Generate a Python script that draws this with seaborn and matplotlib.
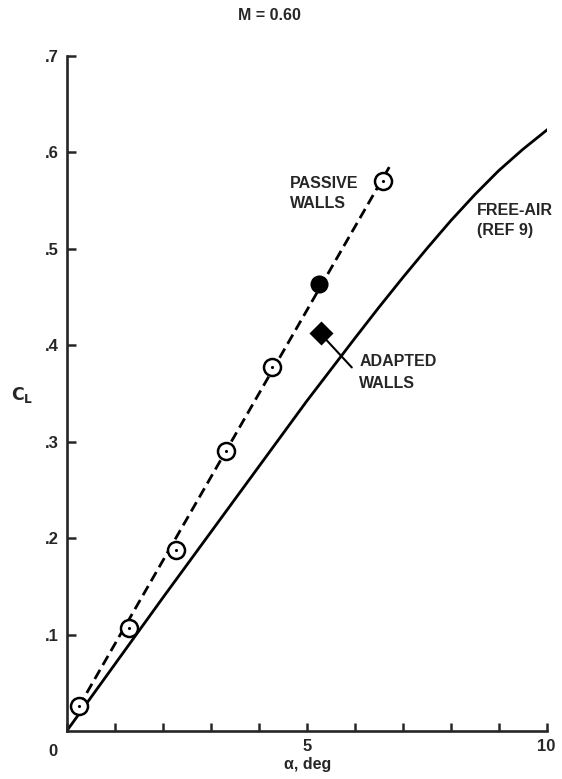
import numpy as np
import pandas as pd
import matplotlib
matplotlib.use("Agg")
import matplotlib.pyplot as plt
import seaborn as sns

# Free-air lift curve (REF 9)
free_alpha = [0.0, 1.0, 2.0, 3.0, 4.0, 5.0, 6.0, 6.5, 7.0, 7.5, 8.0, 8.5, 9.0, 9.5, 10.05]
free_cl = [0.0, 0.069, 0.138, 0.206, 0.274, 0.342, 0.407, 0.439, 0.470, 0.500, 0.529,
           0.556, 0.581, 0.603, 0.625]

# Passive-wall measurements
passive_alpha = [0.26, 1.30, 2.27, 3.32, 4.28, 6.58]
passive_cl = [0.026, 0.1065, 0.188, 0.290, 0.377, 0.570]

# Passive-wall fairing (dashed)
fair_alpha = [0.25, 6.77]
fair_cl = [0.025, 0.589]

# Solid-circle point and adapted-wall point
solid_alpha = [5.26]
solid_cl = [0.463]
adapted_alpha = [5.29]
adapted_cl = [0.4125]

x_ticks = [0, 1, 2, 3, 4, 5, 6, 7, 8, 9, 10]
x_labels = ["", "", "", "", "", "5", "", "", "", "", "10"]
y_ticks = [0.1, 0.2, 0.3, 0.4, 0.5, 0.6, 0.7]
y_labels = [".1", ".2", ".3", ".4", ".5", ".6", ".7"]

sns.set_style("ticks")
plt.rcParams["font.family"] = ["Liberation Sans", "DejaVu Sans"]
plt.rcParams["font.weight"] = "bold"
plt.rcParams["mathtext.default"] = "regular"

fig = plt.figure(figsize=(5.62, 7.79), dpi=100)
ax = fig.add_axes([0.1187, 0.0616, 0.854, 0.8666])

lw = 2.0
sns.lineplot(x=free_alpha, y=free_cl, ax=ax, color="black", lw=lw, sort=False)
fair = sns.lineplot(x=fair_alpha, y=fair_cl, ax=ax, color="black", lw=lw, sort=False)
fair.lines[-1].set_dashes((3.8, 2.0))

sns.scatterplot(x=passive_alpha, y=passive_cl, ax=ax, s=150, marker="o",
                facecolor="white", edgecolor="black", linewidth=1.8, zorder=5)
sns.scatterplot(x=passive_alpha, y=passive_cl, ax=ax, s=5, marker="o",
                color="black", linewidth=0, zorder=6)
sns.scatterplot(x=solid_alpha, y=solid_cl, ax=ax, s=170, marker="o",
                color="black", linewidth=0, zorder=5)
sns.scatterplot(x=adapted_alpha, y=adapted_cl, ax=ax, s=150, marker="D",
                color="black", linewidth=0, zorder=5)

# Leader from the adapted-wall point to its label
ax.plot([5.42, 5.94], [0.405, 0.377], color="black", lw=1.5)

fs = 11.5
ax.text(4.65, 0.568, "PASSIVE", fontsize=fs, ha="left", va="center")
ax.text(4.65, 0.5475, "WALLS", fontsize=fs, ha="left", va="center")
ax.text(8.54, 0.540, "FREE-AIR", fontsize=fs, ha="left", va="center")
ax.text(8.54, 0.519, "(REF 9)", fontsize=fs, ha="left", va="center")
ax.text(6.10, 0.383, "ADAPTED", fontsize=fs, ha="left", va="center")
ax.text(6.10, 0.360, "WALLS", fontsize=fs, ha="left", va="center")

ax.set_xlim(0, 10)
ax.set_ylim(0, 0.7)
ax.set_xticks(x_ticks)
ax.set_xticklabels(x_labels)
ax.set_yticks(y_ticks)
ax.set_yticklabels(y_labels)
ax.tick_params(axis="both", direction="in", width=1.8, labelsize=fs + 0.5, pad=6)
ax.tick_params(axis="y", length=6.5)
ax.tick_params(axis="x", length=5.5)
for s in ("left", "bottom"):
    ax.spines[s].set_linewidth(1.9)
sns.despine(ax=ax)
ax.set_xlabel("")
ax.set_ylabel("")

ax.text(-0.28, -0.021, "0", fontsize=fs + 0.5, ha="center", va="center",
        transform=ax.transData, clip_on=False)
fig.text(308 / 562, 1 - 765 / 779, "α, deg", fontsize=fs, ha="center", va="center")
fig.text(22 / 562, 1 - 395 / 779, r"$\mathbf{C_L}$", fontsize=fs + 1, ha="center", va="center")
fig.text(269 / 562, 1 - 15 / 779, "M = 0.60", fontsize=fs, ha="center", va="center")

fig.savefig("out.png", dpi=100)
